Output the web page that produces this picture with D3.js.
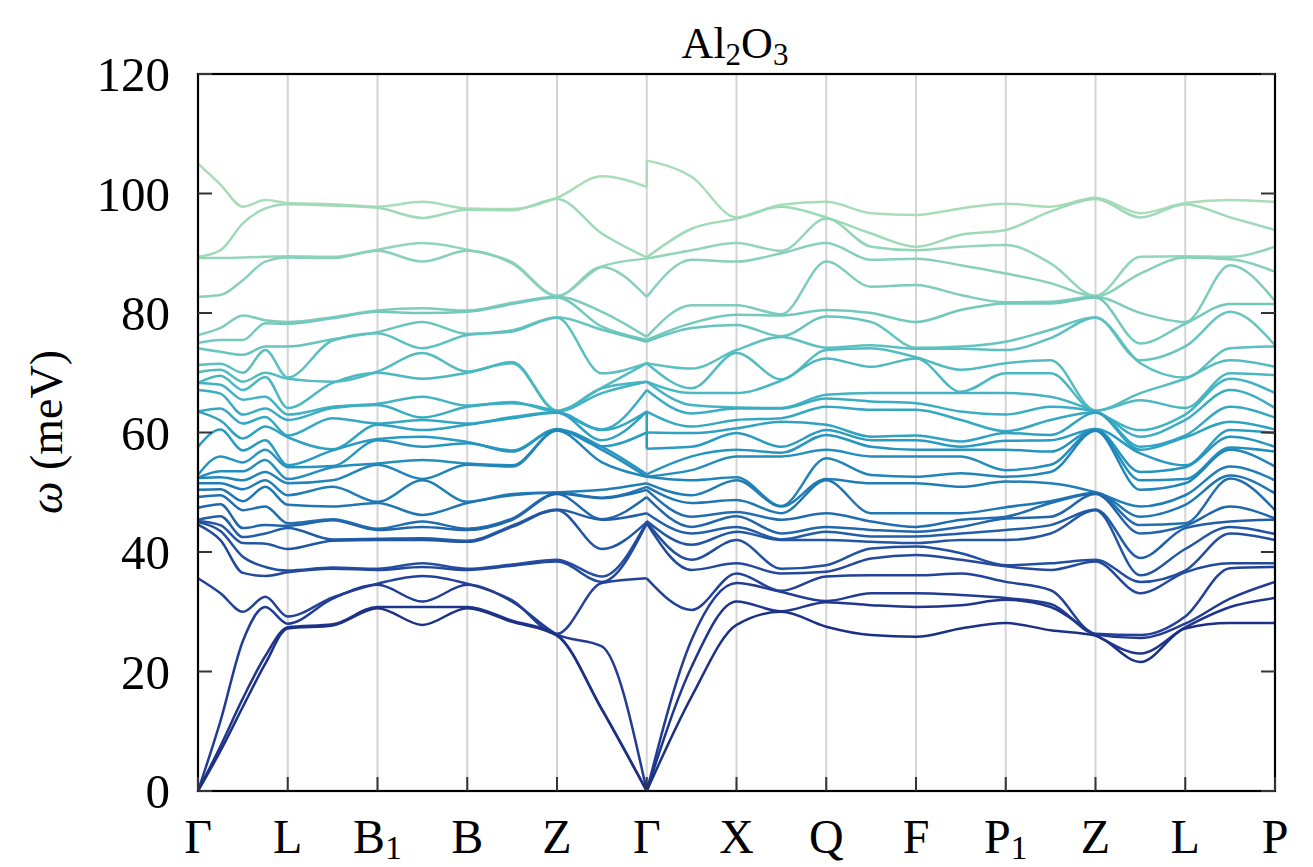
<!DOCTYPE html>
<html><head><meta charset="utf-8">
<script src="https://cdn.jsdelivr.net/npm/d3@7"></script>
<style>body{margin:0;background:#fff}svg{display:block}</style>
</head><body>
<svg id="c" width="1313" height="867"></svg>
<script>
// High-symmetry path labels (base, subscript)
const kLabels = ["Γ","L","B","B","Z","Γ","X","Q","F","P","Z","L","P"];
const kSubs   = ["","","1","","","","","","","1","","",""];
const yTicks = [0,20,40,60,80,100,120];

// Phonon frequencies (meV) at sampled q-points along the path (30 branches each)
const qG0   = [0,0,0,35.6,44.6,45,45.2,45.4,47.4,49.2,50.4,51.5,52.4,52.4,52.9,57.6,63.5,63.5,67.1,68.3,68.3,70.1,71.3,74.1,75,76.3,82.7,89.2,89.4,105];
const qGL1  = [6.7,7.5,11.7,33.1,42.0,43.5,44.5,46.0,48.0,49.5,50.5,51.5,52.5,53.5,56.0,60.5,62.0,64.0,66.5,68.0,69.5,70.5,71.5,73.5,75.5,77.5,83.0,89.2,90.5,101.5];
const qGL   = [14.1,15.5,25.1,30.0,36.5,39.2,41.5,42.5,44.0,47.0,48.5,50.5,52.0,53.5,55.0,57.0,59.0,61.5,63.0,65.5,67.1,68.5,70.0,73.0,75.5,79.6,85.5,89.3,95.0,97.8];
const qGL3  = [21.3,22.6,30.8,32.5,36.0,37.5,41.4,43.1,44.5,47.6,50.9,52.0,53.4,55.4,57.1,58.7,61.0,62.6,64.0,66.0,69.3,70.0,73.8,74.4,78.3,78.8,88.6,89.4,97.5,98.9];
const qL    = [27.2,27.4,28.0,29.2,36.6,36.9,40.5,44.0,44.4,44.8,47.9,49.5,51.5,52.2,54.2,54.5,59.2,59.5,62.1,63.0,64.1,69.0,69.2,74.4,78.2,78.5,89.3,89.5,98.2,98.4];
const qLB1  = [27.7,27.9,32.2,32.4,37.2,37.4,41.9,42.1,45.3,45.5,47.6,50.9,52.0,54.2,54.4,57.0,57.2,62.4,64.1,64.3,68.3,68.5,75.4,75.6,79.1,79.3,89.2,89.4,98.0,98.2];
const qB1   = [30.6,30.8,34.5,34.7,37.0,37.2,42.0,42.2,43.7,43.9,48.2,48.4,54.6,54.8,58.7,58.9,61.3,61.5,64.6,64.8,70.0,70.2,76.6,76.8,80.2,80.4,90.4,90.6,97.6,97.8];
const qB1B  = [27.8,30.8,31.7,36.0,37.5,38.1,42.0,42.3,44.2,45.1,46.2,52.0,52.2,55.4,57.6,59.3,60.4,62.1,62.5,66.0,69.0,73.3,74.1,78.5,80.0,80.8,88.6,91.7,95.9,98.6];
const qB    = [30.6,30.8,34.5,34.7,37.0,37.2,41.7,41.9,43.7,43.9,48.2,48.4,54.6,54.8,58.2,58.4,61.3,61.5,64.3,64.5,70.0,70.2,76.3,76.5,80.2,80.4,90.4,90.6,97.3,97.5];
const qBZ   = [28.3,28.5,31.7,31.9,37.7,37.9,44.2,44.4,45.4,45.6,49.5,49.7,54.3,54.5,56.8,57.0,62.4,62.6,64.9,65.1,71.6,71.8,76.9,77.1,81.5,81.7,88.3,88.5,97.2,97.4];
const qZ    = [26.0,26.1,26.2,26.3,38.4,38.7,47.0,47.1,49.7,49.8,49.9,50.0,60.3,60.4,60.5,60.6,63.3,63.4,63.5,63.5,63.6,63.7,79.2,79.3,82.6,82.7,82.8,82.9,99.1,99.3];
const qZG   = [13.6,13.7,24.2,34.8,35.0,35.9,40.5,45.4,45.5,49.0,49.1,50.4,55.0,57.1,57.6,57.7,58.7,60.4,60.5,66.6,67.4,67.5,69.9,77.2,77.7,80.2,87.7,87.8,93.3,102.9];
const qGa   = [0,0,0,35.6,44.8,45.0,45.0,46.5,49.2,50.4,50.9,51.5,52.6,52.6,53.0,60.0,63.5,63.5,67.1,68.5,68.5,71.6,71.6,75.2,75.5,76.0,82.7,89.1,89.3,101.1];
const qGb   = [0,0,0,35.6,44.8,45.0,45.2,46.5,49.2,50.4,50.9,51.5,52.6,52.6,53.0,57.3,60.0,63.5,67.1,68.5,68.5,71.6,71.6,75.2,75.5,76.0,82.7,89.1,89.3,105.5];
const qGX   = [15.8,20.8,25.3,30.3,37.0,38.7,41.2,43.1,44.2,45.9,48.2,49.5,52.0,53.7,56.0,57.6,59.9,61.0,63.2,64.6,66.6,67.4,70.7,77.5,78.3,81.3,88.9,90.5,94.1,102.8];
const qX    = [27.8,31.7,34.8,36.4,38.1,42.0,43.4,44.2,46.0,46.7,48.7,52.0,52.5,56.0,57.1,59.9,60.7,62.1,64.0,64.2,66.6,73.3,73.8,78.0,79.7,81.3,88.6,91.7,95.8,96.0];
const qXQ   = [30.0,30.1,33.3,33.5,36.4,37.2,42.0,42.1,43.1,45.4,46.5,47.6,47.7,56.0,56.6,57.6,61.8,62.4,64.0,64.1,68.7,68.9,76.0,76.1,79.6,79.8,90.0,90.4,97.8,98.1];
const qQ    = [27.5,31.6,31.8,35.9,36.7,37.8,42.0,43.4,44.2,46.5,52.0,52.2,55.7,57.1,59.6,60.4,61.3,64.3,65.7,66.3,72.4,73.8,74.2,79.4,80.5,88.6,91.7,95.8,96.0,98.6];
const qQF   = [26.1,31.1,33.1,36.1,38.9,40.6,41.7,42.6,43.7,45.1,46.5,51.5,52.9,56.0,57.6,58.7,59.3,63.8,65.2,66.6,71.0,74.1,74.6,78.5,80.0,84.4,88.9,91.1,93.3,96.7];
const qF    = [25.8,30.8,33.1,36.1,39.5,40.9,41.5,42.6,43.4,44.2,46.5,51.5,52.6,56.0,57.1,58.7,59.5,63.8,64.9,66.6,72.4,72.6,74.0,74.2,78.5,84.7,89.1,90.5,91.1,96.4];
const qFP1  = [27.2,31.1,32.8,36.4,38.7,39.8,42.0,43.1,44.2,45.4,46.5,50.9,53.2,56.0,57.1,57.6,58.5,62.1,63.5,66.6,66.8,70.5,74.0,74.4,80.5,83.0,88.0,91.1,93.1,97.5];
const qP1   = [28.1,32.0,32.3,35.0,37.6,37.8,42.0,43.7,45.6,45.9,47.5,51.8,52.6,53.7,57.1,58.6,59.9,60.2,63.0,66.6,69.9,71.6,73.8,75.2,81.6,81.8,86.6,91.4,93.9,98.3];
const qP1Z  = [26.9,30.8,31.3,33.6,37.0,38.1,43.1,44.5,45.9,48.2,48.5,51.5,53.4,54.6,56.8,58.7,59.6,62.1,64.3,66.0,69.9,72.1,75.8,77.2,81.6,81.9,85.0,88.3,97.0,97.8];
const qZL   = [21.6,23.0,25.6,26.1,33.1,35.0,36.1,39.0,43.1,44.5,45.9,47.6,50.4,52.0,53.4,56.5,57.1,57.6,59.3,60.4,65.4,66.6,71.6,72.1,74.9,80.0,86.6,89.4,96.0,96.7];
const qLP   = [28.1,30.8,32.2,37.3,38.1,43.1,44.2,45.1,47.6,52.3,52.8,54.3,57.1,57.5,59.3,60.4,61.8,64.3,67.1,69.0,69.9,72.1,74.1,80.2,81.5,88.0,89.0,89.4,96.0,98.9];
const qP    = [28.1,32.3,35.0,37.5,38.1,42.0,43.0,45.4,45.6,47.0,49.8,52.0,54.3,56.8,57.6,59.9,60.5,62.5,64.1,66.6,69.6,71.0,74.4,74.6,81.5,82.0,86.9,91.1,93.9,98.6];

// path coordinate of each sampled q-point
const piece1 = [[0,qG0],[0.25,qGL1],[0.5,qGL],[0.75,qGL3],[1,qL],[1.5,qLB1],[2,qB1],[2.5,qB1B],[3,qB],[3.5,qBZ],[4,qZ],[4.5,qZG],[5,qGa]];
const piece2 = [[5,qGb],[5.5,qGX],[6,qX],[6.5,qXQ],[7,qQ],[7.5,qQF],[8,qF],[8.5,qFP1],[9,qP1],[9.5,qP1Z],[10,qZ],[10.5,qZL],[11,qL],[11.5,qLP],[12,qP]];

const svg = d3.select("#c");
const L = 198, R = 1275, T = 74, B = 791;
const x = d3.scaleLinear().domain([0,12]).range([L,R]);
const y = d3.scaleLinear().domain([0,120]).range([B,T]);
const NB = 30;
const color = i => d3.interpolateYlGnBu(0.9 - 0.6*i/(NB-1));

// grid lines
svg.append("g").selectAll("line").data(d3.range(1,12)).join("line")
  .attr("x1",d=>x(d)).attr("x2",d=>x(d)).attr("y1",T).attr("y2",B)
  .attr("stroke","#d4d4d4").attr("stroke-width",2);

const line = d3.line().x(d=>x(d[0])).y(d=>y(d[1])).curve(d3.curveMonotoneX);
const g = svg.append("g").attr("fill","none").attr("stroke-width",2.5).attr("stroke-linejoin","round");
const sortedA = qGa.slice().sort((a,b)=>a-b), sortedB = qGb.slice().sort((a,b)=>a-b);
[piece1,piece2].forEach(piece=>{
  const cols = piece.map(([k,v])=>[k, v.slice().sort((a,b)=>a-b)]);
  for(let i=NB-1;i>=0;i--){
    g.append("path").attr("d", line(cols.map(([k,v])=>[k,v[i]]))).attr("stroke", color(i));
  }
});
// LO-TO jumps at the Γ point between the two path pieces
for(let i=NB-1;i>=0;i--){
  if(sortedA[i]!==sortedB[i]){
    g.append("line").attr("x1",x(5)).attr("x2",x(5)).attr("y1",y(sortedA[i])).attr("y2",y(sortedB[i]))
      .attr("stroke",color(i)).attr("stroke-width",2.5);
  }
}

// frame
svg.append("rect").attr("x",L).attr("y",T).attr("width",R-L).attr("height",B-T)
  .attr("fill","none").attr("stroke","#000").attr("stroke-width",2.2);

// y ticks
const font = "'Liberation Serif','DejaVu Serif',serif";
yTicks.forEach(t=>{
  svg.append("line").attr("x1",L).attr("x2",L+14).attr("y1",y(t)).attr("y2",y(t)).attr("stroke","#333").attr("stroke-width",2);
  svg.append("line").attr("x1",R-14).attr("x2",R).attr("y1",y(t)).attr("y2",y(t)).attr("stroke","#333").attr("stroke-width",2);
  svg.append("text").attr("x",L-28).attr("y",y(t)).attr("dy","0.35em").attr("text-anchor","end")
    .attr("font-family",font).attr("font-size",49).text(t);
});
// x ticks and labels
kLabels.forEach((lab,i)=>{
  svg.append("line").attr("x1",x(i)).attr("x2",x(i)).attr("y1",B).attr("y2",B-14).attr("stroke","#333").attr("stroke-width",2);
  const t = svg.append("text").attr("x",x(i)).attr("y",853).attr("text-anchor","middle")
    .attr("font-family",font).attr("font-size",48);
  t.append("tspan").text(lab);
  if(kSubs[i]) t.append("tspan").attr("font-size",34).attr("dy",6).text(kSubs[i]);
});

// title
const ti = svg.append("text").attr("x",735).attr("y",58).attr("text-anchor","middle")
  .attr("font-family",font).attr("font-size",44);
ti.append("tspan").text("Al");
ti.append("tspan").attr("font-size",31).attr("dy",7).text("2");
ti.append("tspan").attr("dy",-7).text("O");
ti.append("tspan").attr("font-size",31).attr("dy",7).text("3");

// y label
const yl = svg.append("text").attr("transform","translate(62,432) rotate(-90)").attr("text-anchor","middle")
  .attr("font-family",font).attr("font-size",46);
yl.append("tspan").attr("font-style","italic").text("ω");
yl.append("tspan").text(" (meV)");
</script>
</body></html>
